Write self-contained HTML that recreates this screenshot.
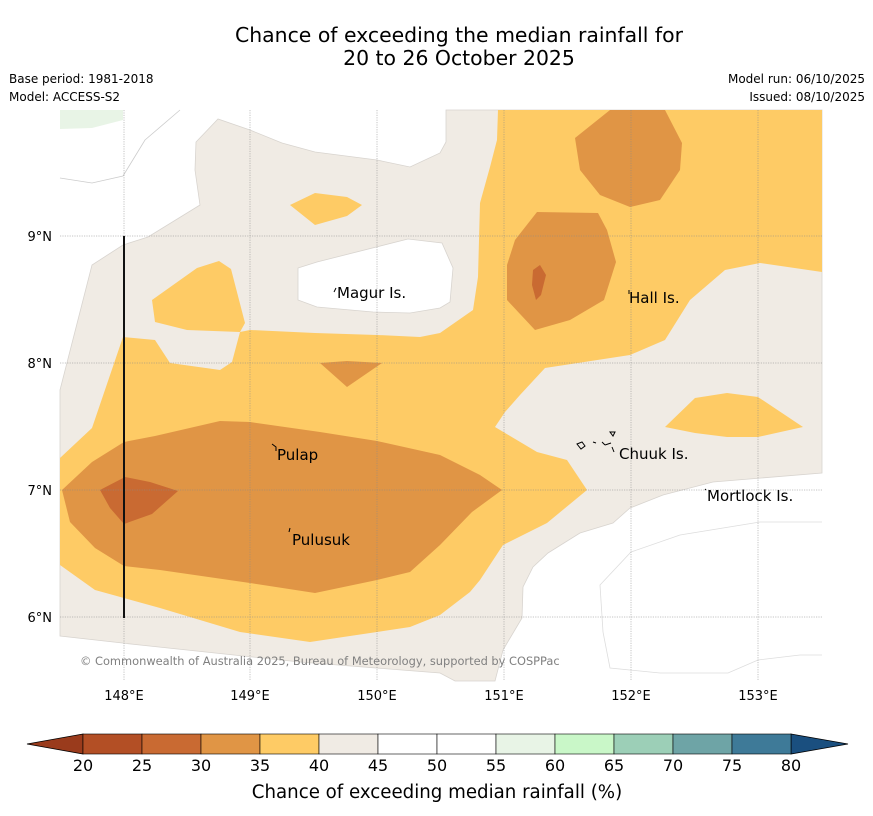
<!DOCTYPE html>
<html><head><meta charset="utf-8">
<style>
body{margin:0;background:#fff;font-family:"Liberation Sans","DejaVu Sans",sans-serif;}
svg{display:block}
</style></head>
<body>
<svg id="fig" width="873" height="816" xmlns="http://www.w3.org/2000/svg" font-family="DejaVu Sans, Liberation Sans, sans-serif">
<text x="459" y="42" font-size="20.4" text-anchor="middle">Chance of exceeding the median rainfall for</text>
<text x="459" y="65" font-size="20.4" text-anchor="middle">20 to 26 October 2025</text>
<text x="9" y="83" font-size="12">Base period: 1981-2018</text>
<text x="9" y="101" font-size="12">Model: ACCESS-S2</text>
<text x="865" y="83" font-size="12" text-anchor="end">Model run: 06/10/2025</text>
<text x="865" y="101" font-size="12" text-anchor="end">Issued: 08/10/2025</text>

<g>
<rect x="60" y="110" width="762" height="571" fill="#fff"/>
<polygon fill="#e8f4e6" points="60,110 123,110 123,120 92,128 60,129"/>
<polyline fill="none" stroke="#ccc" stroke-width="0.8" points="60,178 92,183 123,176 145,140 180,110"/>
<polygon fill="#f0ebe4" stroke="#d8d4cf" stroke-width="0.8" points="60,390 92,265 123,245 148,237 200,205 195,170 196,142 218,119 250,130 282,143 315,152 377,160 410,167 440,153 446,142 446,110 822,110 822,473 713,482 663,495 630,508 613,523 580,533 548,553 533,567 523,587 522,618 503,650 495,681 455,681 440,673 300,662 140,645 60,636"/>
<polygon fill="#fff" stroke="#d8d4cf" stroke-width="0.8" points="298,268 317,262 408,239 442,243 453,268 450,302 440,308 410,313 373,312 317,307 298,300"/>
<polyline fill="none" stroke="#ddd" stroke-width="0.8" points="822,522 760,522 680,535 631,552 600,585 603,632 610,668 660,673 728,673 758,660 800,655 822,655"/>
<polygon fill="#fecb65" points="60,458 92,428 123,337 155,340 170,363 220,370 232,362 240,332 250,330 315,333 377,335 420,337 440,333 473,310 478,277 480,203 490,167 497,140 498,110 822,110 822,272 760,263 725,270 690,300 665,340 630,355 545,368 520,395 505,412 495,427 537,452 567,460 587,490 547,523 503,545 480,580 470,592 440,615 410,627 310,642 240,632 160,608 95,590 60,565"/>
<polygon fill="#fecb65" points="152,300 197,268 219,261 231,269 245,323 240,332 187,330 155,322"/>
<polygon fill="#fecb65" points="290,205 315,193 347,197 362,205 347,216 315,225"/>
<polygon fill="#fecb65" points="665,427 695,398 727,393 758,397 803,427 758,437 727,437 695,433"/>
<polygon fill="#e09545" points="62,490 92,462 124,442 155,436 220,421 250,422 320,432 377,441 440,455 480,475 502,490 472,512 440,545 410,572 377,580 315,593 250,583 160,570 124,566 95,548 70,522"/>
<polygon fill="#e09545" points="320,363 347,361 382,363 347,387"/>
<polygon fill="#e09545" points="575,138 600,118 610,110 665,110 682,143 680,170 660,200 630,207 600,195 580,170"/>
<polygon fill="#e09545" points="507,265 515,240 537,212 598,213 607,230 616,262 604,300 570,320 535,330 507,300"/>
<polygon fill="#c96a32" points="100,490 125,477 150,482 178,491 152,514 124,524 110,508"/>
<polygon fill="#c96a32" points="533,270 540,265 546,275 541,295 536,300 532,285"/>
<g stroke="#888" stroke-width="0.5" stroke-dasharray="1.2,1.2">
<line x1="124" y1="110" x2="124" y2="681"/><line x1="250" y1="110" x2="250" y2="681"/><line x1="377" y1="110" x2="377" y2="681"/><line x1="504" y1="110" x2="504" y2="681"/><line x1="631" y1="110" x2="631" y2="681"/><line x1="758" y1="110" x2="758" y2="681"/>
<line x1="60" y1="236" x2="822" y2="236"/><line x1="60" y1="363" x2="822" y2="363"/><line x1="60" y1="490" x2="822" y2="490"/><line x1="60" y1="617" x2="822" y2="617"/>
</g>
<line x1="124" y1="236" x2="124" y2="618" stroke="#111" stroke-width="2"/>
<g font-size="15" fill="#000">
<text x="337" y="298">Magur Is.</text>
<text x="629" y="303">Hall Is.</text>
<text x="277" y="460">Pulap</text>
<text x="292" y="545">Pulusuk</text>
<text x="619" y="459">Chuuk Is.</text>
<text x="707" y="501">Mortlock Is.</text>
</g>
<g fill="none" stroke="#000" stroke-width="1">
<path d="M336 288 l-2 4"/><path d="M629 290 l0 4"/><path d="M272 444 l4 3 l0 4"/><path d="M290 528 l-1 4"/>
<path d="M577 444 l5 -2 l3 4 l-4 3 z"/><path d="M593 442 l3 1"/><path d="M602 442 l3 3"/><path d="M610 432 l5 0 l-2 4 z"/><path d="M612 447 l2 5"/><path d="M605 445 l6 -2"/><path d="M705 489 l1 1"/>
</g>
<text x="80" y="665" font-size="11.4" fill="#808080">© Commonwealth of Australia 2025, Bureau of Meteorology, supported by COSPPac</text>
</g>
<g font-size="13" text-anchor="middle">
<text x="124" y="700">148°E</text><text x="250" y="700">149°E</text><text x="377" y="700">150°E</text><text x="504" y="700">151°E</text><text x="631" y="700">152°E</text><text x="758" y="700">153°E</text>
</g>
<g font-size="13" text-anchor="end">
<text x="52" y="241">9°N</text><text x="52" y="368">8°N</text><text x="52" y="495">7°N</text><text x="52" y="622">6°N</text>
</g>
<g id="cbar"></g>
<text x="437" y="798" font-size="18.2" text-anchor="middle">Chance of exceeding median rainfall (%)</text>
</svg>
<script>
const binEdges=[20,25,30,35,40,45,50,55,60,65,70,75,80];
const binColors=["#b34f25","#c96a32","#e09545","#fecb65","#f0ebe4","#ffffff","#ffffff","#e8f4e6","#c9f7c8","#9ccfb7","#6ea4a6","#3e7a98"];
const underColor="#9a3b1c";
const overColor="#1a4f7f";
const NS="http://www.w3.org/2000/svg";
const g=document.getElementById('cbar');
const x0=83,x1=791,y0=734,h=20;
function sx(v){return x0+(v-binEdges[0])/(binEdges[binEdges.length-1]-binEdges[0])*(x1-x0);}
function mk(t,a){const e=document.createElementNS(NS,t);for(const k in a)e.setAttribute(k,a[k]);g.appendChild(e);return e;}
const tl=mk('polygon',{points:`${sx(binEdges[0])},${y0} 27,${y0+h/2} ${sx(binEdges[0])},${y0+h}`,fill:underColor,stroke:'#000','stroke-width':0.8});


const tr=mk('polygon',{points:`${sx(80)},${y0} 848,${y0+h/2} ${sx(80)},${y0+h}`,fill:overColor,stroke:'#000','stroke-width':0.8});


for(let i=0;i<binColors.length;i++){
  const r=mk('rect',{x:sx(binEdges[i]),y:y0,width:sx(binEdges[i+1])-sx(binEdges[i]),height:h,fill:binColors[i],stroke:'#000','stroke-width':0.6});
  
  
}
for(const v of binEdges){
  const t=mk('text',{x:sx(v),y:771,'font-size':16,'text-anchor':'middle'});
  t.textContent=v;
  
  
}
</script>
</body></html>
